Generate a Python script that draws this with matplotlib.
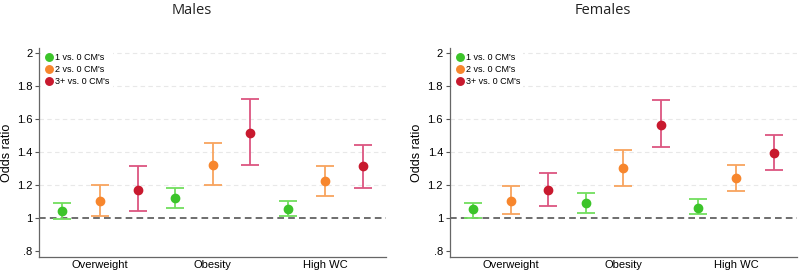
import matplotlib
matplotlib.use("Agg")
import matplotlib.pyplot as plt
import numpy as np

categories = ["Overweight", "Obesity", "High WC"]
groups = ["1 vs. 0 CM's", "2 vs. 0 CM's", "3+ vs. 0 CM's"]

# odds ratios and 95% CI per group (rows), per category (columns)
males_or = [[1.04, 1.12, 1.05], [1.10, 1.32, 1.22], [1.17, 1.51, 1.31]]
males_lo = [[0.99, 1.06, 1.01], [1.01, 1.20, 1.13], [1.04, 1.32, 1.18]]
males_hi = [[1.09, 1.18, 1.10], [1.20, 1.45, 1.31], [1.31, 1.72, 1.44]]

females_or = [[1.05, 1.09, 1.06], [1.10, 1.30, 1.24], [1.17, 1.56, 1.39]]
females_lo = [[1.00, 1.03, 1.02], [1.02, 1.19, 1.16], [1.07, 1.43, 1.29]]
females_hi = [[1.09, 1.15, 1.11], [1.19, 1.41, 1.32], [1.27, 1.71, 1.50]]

marker_colors = ["#3cc42a", "#f7862d", "#c8192e"]
bar_colors = ["#72de5e", "#f8a45e", "#dc5580"]

plt.rcParams['font.family'] = ['Liberation Sans', 'DejaVu Sans']

fig = plt.figure(figsize=(8, 2.71), dpi=100)
panels = [
    ("Males", males_or, males_lo, males_hi, [0.049, 0.434]),
    ("Females", females_or, females_lo, females_hi, [0.5625, 0.434]),
]

for title, ors, los, his, (left, width) in panels:
    ax = fig.add_axes([left, 0.052, width, 0.77])
    for g in range(3):
        x = np.arange(3) * 3 + 1 + g
        y = np.array(ors[g])
        err = [y - np.array(los[g]), np.array(his[g]) - y]
        ax.errorbar(x, y, yerr=err, fmt='none', ecolor=bar_colors[g],
                    elinewidth=1.3, capsize=6.5, capthick=1.3, zorder=3)
        ax.plot(x, y, 'o', color=marker_colors[g], markersize=6,
                label=groups[g], zorder=4)
    ax.axhline(1, color='#555555', linestyle=(0, (4, 2.5)), linewidth=1.2, zorder=2)
    for yy in [1.2, 1.4, 1.6, 1.8, 2.0]:
        ax.axhline(yy, color='#e8e8e8', linestyle=(0, (4, 3)), linewidth=0.8, zorder=1)
    ax.set_xlim(0.38, 9.63)
    ax.set_ylim(0.762, 2.026)
    ax.set_xticks([2, 5, 8])
    ax.set_xticklabels(categories, fontsize=8)
    ax.set_yticks([0.8, 1.0, 1.2, 1.4, 1.6, 1.8, 2.0])
    ax.set_yticklabels([".8", "1", "1.2", "1.4", "1.6", "1.8", "2"], fontsize=8)
    ax.tick_params(axis='x', length=0, pad=2)
    ax.tick_params(axis='y', length=3, width=0.8, color='#555555', pad=2)
    ax.spines['top'].set_visible(False)
    ax.spines['right'].set_visible(False)
    for s in ['left', 'bottom']:
        ax.spines[s].set_color('#666666')
        ax.spines[s].set_linewidth(0.9)
    ax.set_ylabel("Odds ratio", fontsize=9, labelpad=3)
    leg = ax.legend(loc='upper left', fontsize=6.5, frameon=True, handletextpad=0.1,
                    borderaxespad=0.2, labelspacing=0.35, handlelength=1.2,
                    borderpad=0.3, markerscale=0.9)
    leg.get_frame().set_edgecolor('none')
    leg.get_frame().set_facecolor('white')
    leg.get_frame().set_alpha(1)
    fig.text(left + width * 0.44, 0.96, title, ha='center', va='center',
             fontsize=10.5, family='Open Sans', color='#222222')

fig.savefig("out.png", dpi=100)
